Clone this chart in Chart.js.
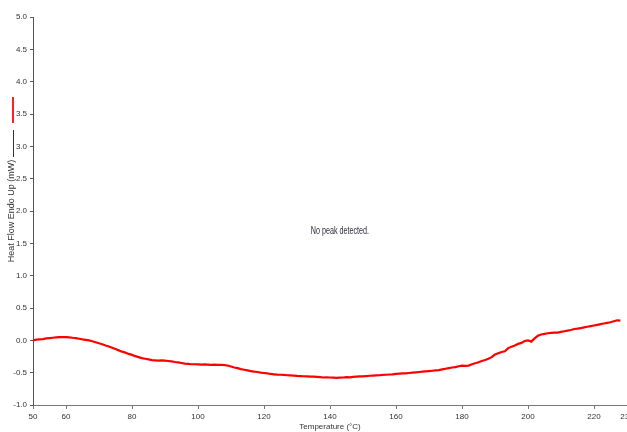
<!DOCTYPE html>
<html>
<head>
<meta charset="utf-8">
<script src="https://cdn.jsdelivr.net/npm/chart.js@4/dist/chart.umd.min.js"></script>
<style>
  html, body { margin: 0; padding: 0; background: #fff; }
  #wrap { width: 627px; height: 432px; position: relative; }
</style>
</head>
<body>
<div id="wrap"><canvas id="dsc"></canvas></div>
<script>
// Temperature scan, °C (1 °C steps)
const temperatures = [];
for (let t = 50; t <= 228; t++) temperatures.push(t);

// Heat flow (mW), endo up, one reading per temperature above
const heatFlow = [
  0.000, 0.010, 0.015, 0.020, 0.030, 0.035, 0.040, 0.045, 0.050, 0.050,   // 50-59
  0.050, 0.047, 0.040, 0.035, 0.025, 0.015, 0.008, 0.000, -0.015, -0.030, // 60-69
  -0.045, -0.060, -0.080, -0.095, -0.115, -0.135, -0.155, -0.175, -0.190, -0.210, // 70-79
  -0.225, -0.245, -0.260, -0.275, -0.285, -0.295, -0.305, -0.310, -0.315, -0.310, // 80-89
  -0.315, -0.320, -0.325, -0.335, -0.340, -0.350, -0.360, -0.365, -0.370, -0.370, // 90-99
  -0.372, -0.375, -0.372, -0.375, -0.378, -0.375, -0.380, -0.378, -0.382, -0.390, // 100-109
  -0.405, -0.420, -0.430, -0.445, -0.455, -0.465, -0.475, -0.485, -0.490, -0.500, // 110-119
  -0.505, -0.510, -0.520, -0.525, -0.530, -0.532, -0.535, -0.540, -0.542, -0.546, // 120-129
  -0.550, -0.552, -0.555, -0.558, -0.560, -0.562, -0.565, -0.570, -0.575, -0.572, // 130-139
  -0.575, -0.578, -0.580, -0.578, -0.575, -0.570, -0.572, -0.565, -0.560, -0.556, // 140-149
  -0.558, -0.552, -0.548, -0.545, -0.542, -0.540, -0.535, -0.532, -0.528, -0.525, // 150-159
  -0.520, -0.515, -0.510, -0.510, -0.505, -0.500, -0.495, -0.490, -0.485, -0.480, // 160-169
  -0.475, -0.470, -0.465, -0.460, -0.450, -0.440, -0.430, -0.420, -0.415, -0.400, // 170-179
  -0.390, -0.395, -0.390, -0.370, -0.355, -0.340, -0.320, -0.305, -0.285, -0.260, // 180-189
  -0.220, -0.200, -0.180, -0.170, -0.120, -0.100, -0.080, -0.055, -0.040, -0.010, // 190-199
  0.000, -0.020, 0.030, 0.070, 0.090, 0.100, 0.110, 0.115, 0.120, 0.120,         // 200-209
  0.130, 0.140, 0.150, 0.160, 0.175, 0.180, 0.190, 0.200, 0.210, 0.220,         // 210-219
  0.230, 0.240, 0.250, 0.260, 0.270, 0.280, 0.295, 0.310, 0.305                 // 220-228
];

// Axis tick positions
const xTicks = [50, 60, 80, 100, 120, 140, 160, 180, 200, 220, 230];
const yTicks = [-1.0, -0.5, 0.0, 0.5, 1.0, 1.5, 2.0, 2.5, 3.0, 3.5, 4.0, 4.5, 5.0];

// Annotation
const noteText = "No peak detected.";
const notePos = { x: 143, y: 1.68 };

const points = temperatures.map((t, i) => ({ x: t, y: heatFlow[i] }));

const FAMILY = '"Liberation Sans", Arial, sans-serif';

// Side legend swatches and the centred note
const decorations = {
  id: 'decorations',
  afterDraw(chart) {
    const ctx = chart.ctx;
    ctx.save();
    ctx.lineCap = 'butt';
    ctx.strokeStyle = '#ff2020';
    ctx.lineWidth = 2;
    ctx.beginPath(); ctx.moveTo(13, 97); ctx.lineTo(13, 123); ctx.stroke();
    ctx.strokeStyle = '#333';
    ctx.lineWidth = 1;
    ctx.beginPath(); ctx.moveTo(13.5, 130); ctx.lineTo(13.5, 157); ctx.stroke();

    // condensed note text, centred on its data position
    const xs = chart.scales.x, ys = chart.scales.y;
    const px = xs.getPixelForValue(notePos.x), py = ys.getPixelForValue(notePos.y);
    ctx.translate(px, py);
    ctx.scale(0.72, 1);
    ctx.fillStyle = '#2e2e3e';
    ctx.font = '10px ' + FAMILY;
    ctx.textAlign = 'center';
    ctx.textBaseline = 'middle';
    ctx.fillText(noteText, 0, 0);
    ctx.restore();
  }
};

const tickFont = { family: FAMILY, size: 8 };
const titleFont = { family: FAMILY, size: 9 };

new Chart(document.getElementById('dsc'), {
  type: 'line',
  data: {
    datasets: [{
      data: points,
      borderColor: '#ff0000',
      borderWidth: 2.2,
      pointRadius: 0,
      tension: 0,
      fill: false
    }]
  },
  options: {
    responsive: true,
    maintainAspectRatio: false,
    animation: false,
    layout: { padding: { top: 17, right: 0, left: 0, bottom: 0 } },
    plugins: { legend: { display: false }, tooltip: { enabled: false } },
    scales: {
      x: {
        type: 'linear',
        min: 50, max: 230,
        afterBuildTicks: s => { s.ticks = xTicks.map(v => ({ value: v })); },
        afterFit: s => { s.height = 27; s.paddingLeft = 0; s.paddingRight = 0; },
        border: { display: true, color: '#777', width: 1 },
        grid: { display: true, drawOnChartArea: false, drawTicks: true, tickLength: 4, color: '#777' },
        ticks: { font: tickFont, color: '#333', padding: 3, maxRotation: 0, autoSkip: false,
                 callback: v => String(v) },
        title: { display: true, text: 'Temperature (°C)', font: tickFont, color: '#333',
                 padding: { top: 2, bottom: 0 } }
      },
      y: {
        type: 'linear',
        min: -1, max: 5,
        afterBuildTicks: s => { s.ticks = yTicks.map(v => ({ value: v })); },
        afterFit: s => { s.width = 33; s.paddingTop = 0; s.paddingBottom = 0; },
        border: { display: true, color: '#555', width: 1 },
        grid: { display: true, drawOnChartArea: false, drawTicks: true, tickLength: 3, color: '#555' },
        ticks: { font: tickFont, color: '#333', padding: 3, autoSkip: false,
                 callback: v => Number(v).toFixed(1) },
        title: { display: true, text: 'Heat Flow Endo Up (mW)', font: titleFont, color: '#333',
                 padding: { top: 6, bottom: 0 } }
      }
    }
  },
  plugins: [decorations]
});
</script>
</body>
</html>
